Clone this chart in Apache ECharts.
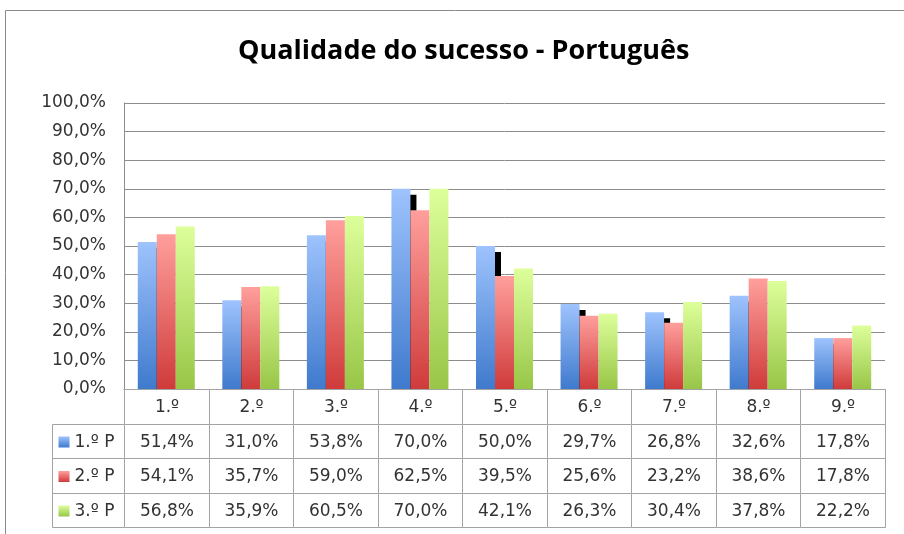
<!DOCTYPE html>
<html>
<head>
<meta charset="utf-8">
<script src="https://cdn.jsdelivr.net/npm/echarts@6/dist/echarts.min.js"></script>
<style>
  html, body { margin: 0; padding: 0; background: #fff; }
  #chart { width: 904px; height: 534px; }
</style>
</head>
<body>
<div id="chart"></div>
<script>
// data
const anos = ['1.º', '2.º', '3.º', '4.º', '5.º', '6.º', '7.º', '8.º', '9.º'];
const periodos = ['1.º P', '2.º P', '3.º P'];
const p1 = [51.4, 31.0, 53.8, 70.0, 50.0, 29.7, 26.8, 32.6, 17.8];
const p2 = [54.1, 35.7, 59.0, 62.5, 39.5, 25.6, 23.2, 38.6, 17.8];
const p3 = [56.8, 35.9, 60.5, 70.0, 42.1, 26.3, 30.4, 37.8, 22.2];
const yTicks = [0, 10, 20, 30, 40, 50, 60, 70, 80, 90, 100];

const valores = [p1, p2, p3];
const cores = [
  ['#9ec3fd', '#3f7acd'],
  ['#ff9f9c', '#cf3b3b'],
  ['#ddff9b', '#98c647']
];
const fonte = 'DejaVu Sans';
const txtCor = '#333';
const linhaCor = '#8c8c8c';
const tabCor = '#a3a3a3';

const fmt = v => v.toFixed(1).replace('.', ',') + '%';

const grad = c => new echarts.graphic.LinearGradient(0, 0, 0, 1, [
  { offset: 0, color: c[0] },
  { offset: 1, color: c[1] }
]);

// cells of the data table: header row + one row per period
const cells = [];
anos.forEach((a, i) => cells.push({ col: i, row: 0, text: a }));
valores.forEach((arr, r) => {
  cells.push({ col: 0, row: r + 1, text: periodos[r], head: true, serie: r });
  arr.forEach((v, i) => cells.push({ col: i, row: r + 1, text: fmt(v) }));
});

const crisp = v => Math.round(v) + 0.5;

const renderCell = (params, api) => {
  const cell = cells[params.dataIndex];
  const c = api.coord([cell.col, cell.row]);
  const s = api.size([1, 1]);
  let x0 = c[0] - s[0] / 2, x1 = c[0] + s[0] / 2;
  const y0 = crisp(c[1] - s[1] / 2), y1 = crisp(c[1] + s[1] / 2);
  if (cell.head) { x1 = x0; x0 = x0 - 72; }
  x0 = crisp(x0); x1 = crisp(x1);
  const children = [{
    type: 'rect',
    shape: { x: x0, y: y0, width: x1 - x0, height: y1 - y0 },
    style: { fill: '#fff', stroke: tabCor, lineWidth: 1 }
  }];
  const cy = (y0 + y1) / 2;
  if (cell.head) {
    children.push({
      type: 'rect',
      shape: { x: x0 + 6, y: cy - 5, width: 11, height: 11 },
      style: { fill: grad(cores[cell.serie]) }
    });
    children.push({
      type: 'text',
      style: { x: x0 + 22, y: cy + 1, text: cell.text, fill: txtCor, font: '17px ' + fonte, verticalAlign: 'middle', align: 'left' }
    });
  } else {
    children.push({
      type: 'text',
      style: { x: (x0 + x1) / 2, y: cy + 1, text: cell.text, fill: txtCor, font: '17px ' + fonte, verticalAlign: 'middle', align: 'center' }
    });
  }
  return { type: 'group', children };
};

const barSeries = valores.map((arr, r) => ({
  name: periodos[r],
  type: 'bar',
  xAxisIndex: 0,
  yAxisIndex: 0,
  data: arr,
  barWidth: 19,
  barGap: '0%',
  z: 2,
  itemStyle: Object.assign({ color: grad(cores[r]) },
    r === 0 ? { shadowColor: '#000', shadowBlur: 0, shadowOffsetX: 6, shadowOffsetY: 6 } : {})
}));

const chart = echarts.init(document.getElementById('chart'));
chart.setOption({
  animation: false,
  title: {
    text: 'Qualidade do sucesso - Português',
    left: 233,
    top: 33,
    textStyle: { fontFamily: 'Open Sans', fontWeight: 'bold', fontSize: 27, color: '#000' }
  },
  graphic: [{
    type: 'rect',
    shape: { x: 5.5, y: 10.5, width: 920, height: 540 },
    style: { fill: 'none', stroke: '#8a8a8a', lineWidth: 1 },
    silent: true
  }],
  grid: [
    { left: 124, right: 19, top: 103, height: 286 },
    { left: 124, right: 19, top: 389, height: 138 }
  ],
  xAxis: [
    {
      gridIndex: 0,
      type: 'category',
      data: anos,
      axisLine: { show: true, lineStyle: { color: linhaCor } },
      axisTick: { show: false },
      axisLabel: { show: false }
    },
    {
      gridIndex: 1,
      type: 'category',
      data: anos,
      show: false
    }
  ],
  yAxis: [
    {
      gridIndex: 0,
      type: 'value',
      min: yTicks[0],
      max: yTicks[yTicks.length - 1],
      interval: 10,
      axisLine: { show: true, lineStyle: { color: linhaCor } },
      axisTick: { show: false },
      splitLine: { lineStyle: { color: linhaCor } },
      axisLabel: { formatter: fmt, fontFamily: fonte, fontSize: 17, color: txtCor, margin: 18 }
    },
    {
      gridIndex: 1,
      type: 'category',
      data: ['', ...periodos],
      inverse: true,
      show: false
    }
  ],
  series: [
    ...barSeries,
    {
      type: 'custom',
      xAxisIndex: 1,
      yAxisIndex: 1,
      z: 5,
      silent: true,
      renderItem: renderCell,
      data: cells.map(c => [c.col, c.row])
    }
  ]
});
</script>
</body>
</html>
